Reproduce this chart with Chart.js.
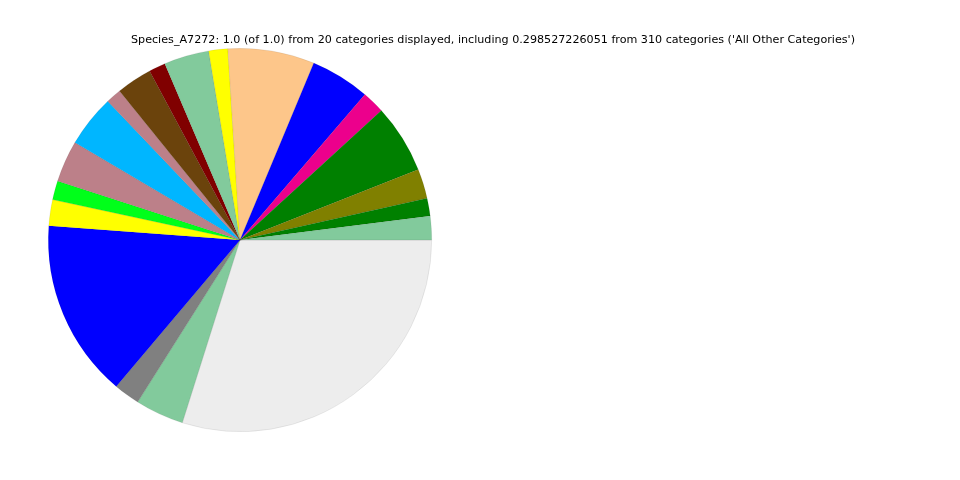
<!DOCTYPE html>
<html>
<head>
<meta charset="utf-8">
<script src="https://cdn.jsdelivr.net/npm/chart.js@4"></script>
<style>
  html, body { margin: 0; padding: 0; background: #fff; }
  #wrap { width: 960px; height: 480px; position: relative; }
</style>
</head>
<body>
<div id="wrap"><canvas id="c" width="960" height="480"></canvas></div>
<script>
// Slices in drawing order (counter-clockwise from 3 o'clock), as in the reference
const categories = [
  "Category 1", "Category 2", "Category 3", "Category 4", "Category 5",
  "Category 6", "Category 7", "Category 8", "Category 9", "Category 10",
  "Category 11", "Category 12", "Category 13", "Category 14", "Category 15",
  "Category 16", "Category 17", "Category 18", "Category 19", "All Other Categories"
];
const values = [
  0.020, 0.015, 0.025, 0.058, 0.019,
  0.050, 0.073, 0.016, 0.038, 0.014,
  0.030, 0.013, 0.044, 0.035, 0.016,
  0.022, 0.150, 0.022, 0.041, 0.298527226051
];
const colors = [
  "#82CA9C", "#008000", "#808000", "#008000", "#EC008C",
  "#0000FF", "#FDC68A", "#FFFF00", "#82CA9C", "#800000",
  "#6B430C", "#BC8089", "#00B6FF", "#BC8089", "#00FF1A",
  "#FFFF00", "#0000FF", "#808080", "#82CA9C", "#EDEDED"
];
const titleText = "Species_A7272: 1.0 (of 1.0) from 20 categories displayed, including 0.298527226051 from 310 categories ('All Other Categories')";

// Chart.js draws clockwise, so reverse to get the counter-clockwise order
const revLabels = categories.slice().reverse();
const revValues = values.slice().reverse();
const revColors = colors.slice().reverse();

const titlePlugin = {
  id: 'plainTitle',
  afterDraw(chart) {
    const ctx = chart.ctx;
    ctx.save();
    ctx.font = '11.15px "DejaVu Sans", sans-serif';
    ctx.fillStyle = '#000';
    ctx.textAlign = 'center';
    ctx.textBaseline = 'middle';
    ctx.fillText(titleText, 493, 40);
    ctx.restore();
  }
};

new Chart(document.getElementById('c'), {
  type: 'pie',
  data: {
    labels: revLabels,
    datasets: [{
      data: revValues,
      backgroundColor: revColors,
      borderColor: 'rgba(0,0,0,0.12)',
      borderWidth: 0.6
    }]
  },
  options: {
    responsive: false,
    animation: false,
    rotation: 90,
    layout: { padding: { left: 48, right: 528, top: 48, bottom: 48 } },
    plugins: {
      legend: { display: false },
      tooltip: { enabled: false },
      title: { display: false }
    }
  },
  plugins: [titlePlugin]
});
</script>
</body>
</html>
